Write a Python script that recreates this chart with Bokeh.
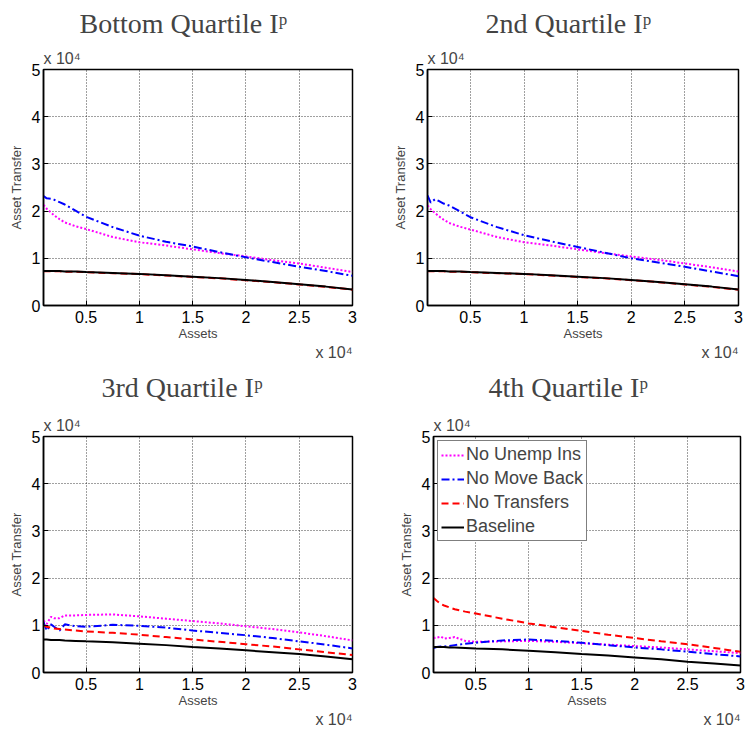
from bokeh.plotting import figure
from bokeh.models import Range1d, FixedTicker, Title
from bokeh.layouts import column, row
from bokeh.embed import file_html
from bokeh.resources import INLINE

# ---------------- data ----------------
assets = [1000, 1300, 1700, 2000, 2500, 3000, 4000, 5000, 7500, 10000,
          12500, 15000, 17500, 20000, 22500, 25000, 27500, 30000]

titles = ["Bottom Quartile I\u1d56", "2nd Quartile I\u1d56",
          "3rd Quartile I\u1d56", "4th Quartile I\u1d56"]
series_names = ["No Unemp Ins", "No Move Back", "No Transfers", "Baseline"]
scale_label = "x 10\u2074"

x_tick_values = [5000, 10000, 15000, 20000, 25000, 30000]
x_tick_labels = ["0.5", "1", "1.5", "2", "2.5", "3"]
y_tick_values = [0, 10000, 20000, 30000, 40000, 50000]
y_tick_labels = ["0", "1", "2", "3", "4", "5"]

# Bottom quartile
q1_unemp = [21300, 20500, 19700, 19100, 18300, 17600, 16800, 16200, 14500, 13400,
            12700, 11900, 11100, 10400, 9600, 8900, 8000, 7100]
q1_move = [23200, 22700, 22600, 22400, 21900, 21400, 20100, 18800, 16600, 14800,
           13500, 12500, 11300, 10200, 9200, 8200, 7300, 6300]
q1_transf = [7250, 7250, 7250, 7250, 7250, 7150, 7150, 7050, 6850, 6650,
             6350, 6050, 5750, 5350, 4950, 4450, 3950, 3350]
q1_base = [7300, 7300, 7300, 7300, 7300, 7200, 7200, 7100, 6900, 6700,
           6400, 6100, 5800, 5400, 5000, 4500, 4000, 3400]

# 2nd quartile
q2_unemp = [21200, 20400, 19600, 19000, 18200, 17500, 16700, 16100, 14500, 13400,
            12700, 11900, 11100, 10400, 9700, 8900, 8100, 7200]
q2_move = [23300, 21800, 22500, 22200, 21600, 21200, 20000, 18700, 16600, 14900,
           13600, 12400, 11200, 10000, 9100, 8200, 7200, 6200]
q2_transf = [7250, 7250, 7250, 7250, 7250, 7150, 7150, 7050, 6850, 6650,
             6350, 6050, 5750, 5350, 4950, 4450, 3950, 3350]
q2_base = [7300, 7300, 7300, 7300, 7300, 7200, 7200, 7100, 6900, 6700,
           6400, 6100, 5800, 5400, 5000, 4500, 4000, 3400]

# 3rd quartile
q3_unemp = [11000, 10300, 11800, 11500, 11500, 12100, 12100, 12200, 12300, 11900,
            11400, 10900, 10400, 9800, 9200, 8500, 7700, 6800]
q3_move = [10700, 8900, 10200, 9700, 8900, 10200, 9800, 9700, 10100, 9900,
           9500, 8900, 8400, 7900, 7300, 6600, 5900, 5100]
q3_transf = [10000, 9700, 9500, 9300, 9200, 9100, 8900, 8700, 8400, 8000,
             7500, 7000, 6500, 6000, 5500, 4900, 4300, 3700]
q3_base = [7000, 7000, 6900, 6900, 6900, 6800, 6700, 6600, 6400, 6100,
           5800, 5400, 5100, 4700, 4300, 3900, 3400, 2800]

# 4th quartile
q4_unemp = [7300, 7400, 7600, 7200, 7300, 7500, 6700, 6500, 6600, 6700,
            6500, 6200, 5900, 5600, 5300, 4900, 4500, 4100]
q4_move = [5200, 5400, 5500, 5500, 5600, 5800, 6100, 6300, 6800, 7000,
           6700, 6300, 5800, 5300, 4900, 4400, 3900, 3400]
q4_transf = [15800, 15200, 14500, 14200, 13800, 13400, 12900, 12500, 11400, 10400,
             9600, 8800, 8000, 7300, 6600, 6000, 5200, 4400]
q4_base = [5400, 5400, 5400, 5400, 5300, 5300, 5200, 5100, 4900, 4600,
           4300, 3900, 3600, 3200, 2800, 2300, 1900, 1500]

# ---------------- styling ----------------
SANS = "Liberation Sans"
SERIF = "Liberation Serif"
styles = [
    dict(color="#FF00FF", line_dash="2 2"),
    dict(color="#0000FF", line_dash="8 3 2 3"),
    dict(color="#FF0000", line_dash="7 4"),
    dict(color="#000000", line_dash="solid"),
]


def make_panel(title, series, width, height, bl, br, bt, bb,
               title_offset, scale_standoff, title_standoff, legend=False):
    p = figure(width=width, height=height,
               x_range=Range1d(1000, 30000), y_range=Range1d(0, 50000),
               output_backend="svg", toolbar_location=None,
               min_border_left=bl, min_border_right=br,
               min_border_top=bt, min_border_bottom=bb, title=None)

    p.xaxis.ticker = FixedTicker(ticks=x_tick_values)
    p.xaxis.major_label_overrides = dict(zip(x_tick_values, x_tick_labels))
    p.yaxis.ticker = FixedTicker(ticks=y_tick_values)
    p.yaxis.major_label_overrides = dict(zip(y_tick_values, y_tick_labels))

    p.xaxis.axis_label = "Assets"
    p.yaxis.axis_label = "Asset Transfer"
    for ax in (p.xaxis, p.yaxis):
        ax.axis_label_text_font = SANS
        ax.axis_label_text_font_size = "13px"
        ax.axis_label_text_font_style = "normal"
        ax.major_label_text_font = SANS
        ax.major_label_text_font_size = "16px"
        ax.major_label_text_color = "black"
        ax.major_tick_in = 5
        ax.major_tick_out = 0
        ax.minor_tick_line_color = None
        ax.axis_line_width = 1.5
        ax.axis_line_color = "black"
        ax.major_tick_line_color = "black"
    p.xaxis.major_label_standoff = 5
    p.xaxis.axis_label_standoff = 0
    p.yaxis.major_label_standoff = 3
    p.yaxis.axis_label_standoff = 5

    p.grid.grid_line_color = "black"
    p.grid.grid_line_alpha = 0.75
    p.grid.grid_line_dash = "1 2"
    p.grid.grid_line_width = 1
    p.outline_line_color = "black"
    p.outline_line_width = 1.5
    p.outline_line_alpha = 1

    for name, vals, st in zip(series_names, series, styles):
        kw = dict(line_width=2, color=st["color"], line_dash=st["line_dash"])
        if legend:
            kw["legend_label"] = name
        p.line(assets, vals, **kw)

    # scale factor labels and panel title
    p.add_layout(Title(text=scale_label, align="left", text_font=SANS,
                       text_font_size="16px", text_font_style="normal",
                       standoff=scale_standoff), "above")
    p.add_layout(Title(text=title, align="left", vertical_align="top",
                       text_font=SERIF, text_font_size="28px",
                       text_font_style="normal", offset=title_offset,
                       standoff=title_standoff), "above")
    p.add_layout(Title(text=scale_label, align="right", vertical_align="top",
                       text_font=SANS, text_font_size="16px",
                       text_font_style="normal", standoff=0), "below")

    if legend:
        lg = p.legend[0]
        lg.location = "top_left"
        lg.margin = 4
        lg.padding = 3
        lg.spacing = 3
        lg.glyph_width = 23
        lg.glyph_height = 20
        lg.label_height = 20
        lg.label_standoff = 2
        lg.label_text_font = SANS
        lg.label_text_font_size = "18px"
        lg.border_line_color = "black"
        lg.border_line_width = 1.5
        lg.background_fill_alpha = 1
    return p


p1 = make_panel(titles[0], [q1_unemp, q1_move, q1_transf, q1_base],
                380, 362, 43, 28, 69, 56, 36, 6, 8)
p2 = make_panel(titles[1], [q2_unemp, q2_move, q2_transf, q2_base],
                367, 362, 47, 9, 69, 56, 58, 6, 8)
p3 = make_panel(titles[2], [q3_unemp, q3_move, q3_transf, q3_base],
                380, 368, 43, 28, 74, 58, 58, 6, 13)
p4 = make_panel(titles[3], [q4_unemp, q4_move, q4_transf, q4_base],
                367, 368, 53, 7, 74, 58, 55, 6, 13, legend=True)

layout = column(row(p1, p2), row(p3, p4))
open("out.html", "w").write(file_html(layout, INLINE))
